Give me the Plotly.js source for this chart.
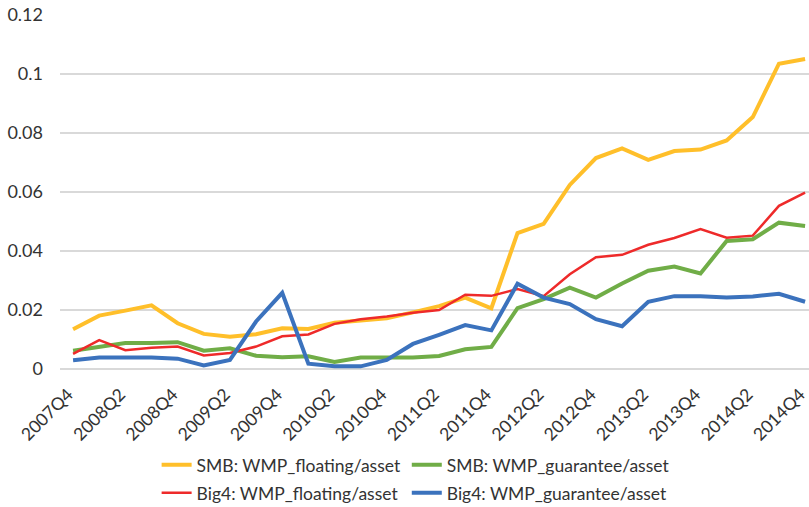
<!DOCTYPE html>
<html>
<head>
<meta charset="utf-8">
<script src="https://cdn.plot.ly/plotly-3.0.1.min.js"></script>
<style>html,body{margin:0;padding:0;background:#fff;}#chart{width:809px;height:507px;}</style>
</head>
<body>
<div id="chart"></div>
<script>
const quarters = ["2007Q4","2008Q1","2008Q2","2008Q3","2008Q4","2009Q1","2009Q2","2009Q3","2009Q4","2010Q1","2010Q2","2010Q3","2010Q4","2011Q1","2011Q2","2011Q3","2011Q4","2012Q1","2012Q2","2012Q3","2012Q4","2013Q1","2013Q2","2013Q3","2013Q4","2014Q1","2014Q2","2014Q3","2014Q4"];
const smbFloating = [0.0135,0.0181,0.0198,0.0216,0.0155,0.0119,0.0109,0.0118,0.0138,0.0136,0.0157,0.0164,0.0172,0.0192,0.0213,0.0242,0.0206,0.0461,0.0492,0.0624,0.0715,0.0748,0.0709,0.0739,0.0744,0.0775,0.0854,0.1035,0.1051];
const smbGuarantee = [0.0062,0.0076,0.0088,0.0088,0.0091,0.0062,0.0070,0.0045,0.0040,0.0043,0.0024,0.0039,0.0039,0.0039,0.0044,0.0067,0.0075,0.0206,0.0237,0.0276,0.0242,0.0290,0.0333,0.0347,0.0324,0.0434,0.0440,0.0496,0.0485];
const big4Floating = [0.0051,0.0098,0.0064,0.0072,0.0076,0.0046,0.0054,0.0076,0.0111,0.0117,0.0153,0.0169,0.0178,0.0191,0.0200,0.0252,0.0248,0.0271,0.0247,0.0321,0.0379,0.0387,0.0421,0.0444,0.0474,0.0445,0.0452,0.0553,0.0598];
const big4Guarantee = [0.0030,0.0039,0.0039,0.0039,0.0035,0.0012,0.0031,0.0161,0.0258,0.0018,0.0009,0.0009,0.0031,0.0085,0.0116,0.0149,0.0131,0.0289,0.0242,0.0220,0.0169,0.0145,0.0228,0.0247,0.0247,0.0242,0.0246,0.0255,0.0228];
const yTickVals = [0,0.02,0.04,0.06,0.08,0.1,0.12];
const yTickText = ["0","0.02","0.04","0.06","0.08","0.1","0.12"];

const idx = quarters.map((q,i)=>i);
const xTickVals = idx.filter(i=>i%2===0);
const xTickText = xTickVals.map(i=>quarters[i]);

function tr(name, y, color, width, leg){
  return {x: idx, y: y, name: name, type:'scatter', mode:'lines',
    line:{color: color, width: width}, legend: leg, hoverinfo:'x+y'};
}
const data = [
  tr("SMB: WMP_floating/asset", smbFloating, "#FFBF2A", 4, 'legend'),
  tr("SMB: WMP_guarantee/asset", smbGuarantee, "#70AD47", 4, 'legend2'),
  tr("Big4: WMP_floating/asset", big4Floating, "#EE2A2A", 2.5, 'legend3'),
  tr("Big4: WMP_guarantee/asset", big4Guarantee, "#3B72BD", 4, 'legend4')
];
const font = "Lato, 'Open Sans', sans-serif";
const tf = {family: font, size: 18, color:'#333333'};
const xf = {family: font, size: 17.5, color:'#333333'};
const lf = {family: font, size: 17.5, color:'#333333'};
function leg(x, y){
  return {orientation:'h', xanchor:'left', yanchor:'middle', x:x, y:y, xref:'paper', yref:'container',
    font: lf, itemwidth: 30, bgcolor:'rgba(0,0,0,0)', borderwidth:0};
}
const col1 = 0.129, col2 = 0.463, row1 = 0.083, row2 = 0.028;
const layout = {
  width: 809, height: 507,
  margin: {l:60, r:0, t:15, b:138, autoexpand:false},
  paper_bgcolor:'#fff', plot_bgcolor:'#fff',
  font: tf,
  showlegend: true,
  legend: leg(col1, row1),
  legend2: leg(col2, row1),
  legend3: leg(col1, row2),
  legend4: leg(col2, row2),
  xaxis: {range:[-0.5, 28.15], tickmode:'array', tickvals: xTickVals, ticktext: xTickText,
    tickangle: -45, showgrid:false, zeroline:false, showline:false, ticks:'', automargin:false,
    ticklabeloverflow:'allow', ticklabelstandoff: 11, ticklabelshift: -5, tickfont: xf, fixedrange:true},
  yaxis: {range:[0, 0.12], tickmode:'array', tickvals: yTickVals, ticktext: yTickText, automargin:false,
    showgrid:true, gridcolor:'#d9d9d9', gridwidth:1.2, zeroline:true, zerolinecolor:'#d9d9d9', zerolinewidth:1.2,
    showline:false, ticks:'', ticklabelstandoff: 16, tickfont: tf, fixedrange:true}
};
Plotly.newPlot('chart', data, layout, {displayModeBar:false, staticPlot:true});
</script>
</body>
</html>
